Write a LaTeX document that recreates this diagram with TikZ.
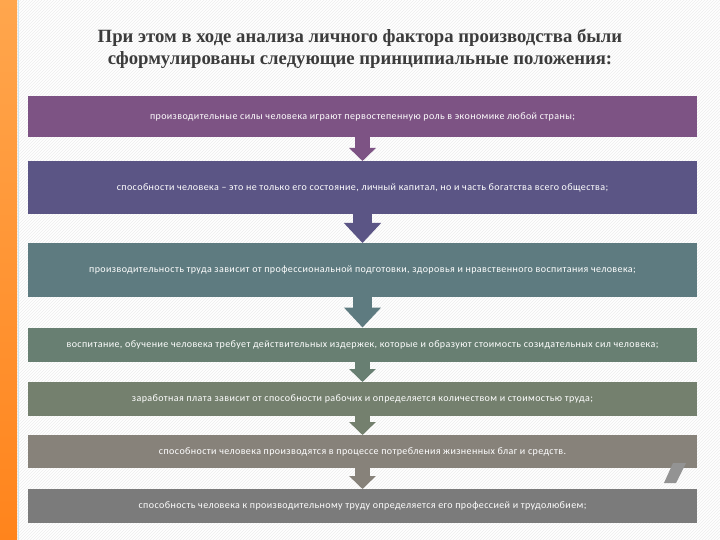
\documentclass[tikz,border=0pt]{standalone}
\usepackage{fontspec}
\setmainfont{Carlito}[LetterSpace=4]
\newfontfamily\titlefont{Liberation Serif}
\usetikzlibrary{arrows.meta,patterns}
\definecolor{cA}{HTML}{7D5384}
\definecolor{cB}{HTML}{5B5585}
\definecolor{cC}{HTML}{5E7B80}
\definecolor{cD}{HTML}{687F72}
\definecolor{cE}{HTML}{74806E}
\definecolor{cF}{HTML}{87827A}
\definecolor{cG}{HTML}{7B7B7B}
\definecolor{titlegray}{HTML}{3C3C3C}
\definecolor{orA}{HTML}{FFA64D}
\definecolor{orB}{HTML}{FF841C}
\definecolor{edgeblue}{HTML}{CFE6F0}
\tikzset{
  stepbox/.style={minimum width=669pt, inner sep=0pt, outer sep=0pt,
    text=white, font=\fontsize{10}{12}\selectfont, align=center},
  bigarrow/.style={line width=19pt, -{Triangle[width=36pt,length=20pt]}},
  smallarrow/.style={line width=15pt, -{Triangle[width=26pt,length=13pt]}},
}
\begin{document}
\begin{tikzpicture}[x=1pt,y=-1pt]
\useasboundingbox (0,0) rectangle (720,540);
\fill[white] (0,0) rectangle (720,540);
\fill[pattern=north east lines, pattern color=black!7] (0,0) rectangle (720,540);
\shade[top color=orA, bottom color=orB] (0,0) rectangle (17,540);
\draw[edgeblue, line width=1.5pt] (18.5,0) -- (18.5,540);

\node[font=\titlefont\bfseries\fontsize{18.7}{22}\selectfont, text=titlegray, align=center] (title) at (360,49)
  {При этом в ходе анализа личного фактора производства были\\сформулированы следующие принципиальные положения:};

\node[stepbox, fill=cA, minimum height=41pt] (b1) at (362.5,116.5)
  {производительные силы человека играют первостепенную роль в экономике любой страны;};
\node[stepbox, fill=cB, minimum height=53pt] (b2) at (362.5,187.5)
  {способности человека – это не только его состояние, личный капитал, но и часть богатства всего общества;};
\node[stepbox, fill=cC, minimum height=54pt] (b3) at (362.5,270)
  {производительность труда зависит от профессиональной подготовки, здоровья и нравственного воспитания человека;};
\node[stepbox, fill=cD, minimum height=34pt] (b4) at (362.5,344.5)
  {воспитание, обучение человека требует действительных издержек, которые и образуют стоимость созидательных сил человека;};
\node[stepbox, fill=cE, minimum height=34pt] (b5) at (362.5,399)
  {заработная плата зависит от способности рабочих и определяется количеством и стоимостью труда;};
\node[stepbox, fill=cF, minimum height=33pt] (b6) at (362.5,451.5)
  {способности человека производятся в процессе потребления жизненных благ и средств.};
\node[stepbox, fill=cG, minimum height=34pt] (b7) at (362.5,506)
  {способность человека к производительному труду определяется его профессией и трудолюбием;};

\draw[smallarrow, cA] (b1.south) -- (b2.north);
\draw[bigarrow, cB] (b2.south) -- (b3.north);
\draw[bigarrow, cC] (b3.south) -- (b4.north);
\draw[smallarrow, cD] (b4.south) -- (b5.north);
\draw[smallarrow, cE] (b5.south) -- (b6.north);
\draw[smallarrow, cF] (b6.south) -- (b7.north);

\fill[gray!85] (673,463) -- (686,463) -- (676,483) -- (664,483) -- cycle;
\end{tikzpicture}
\end{document}
